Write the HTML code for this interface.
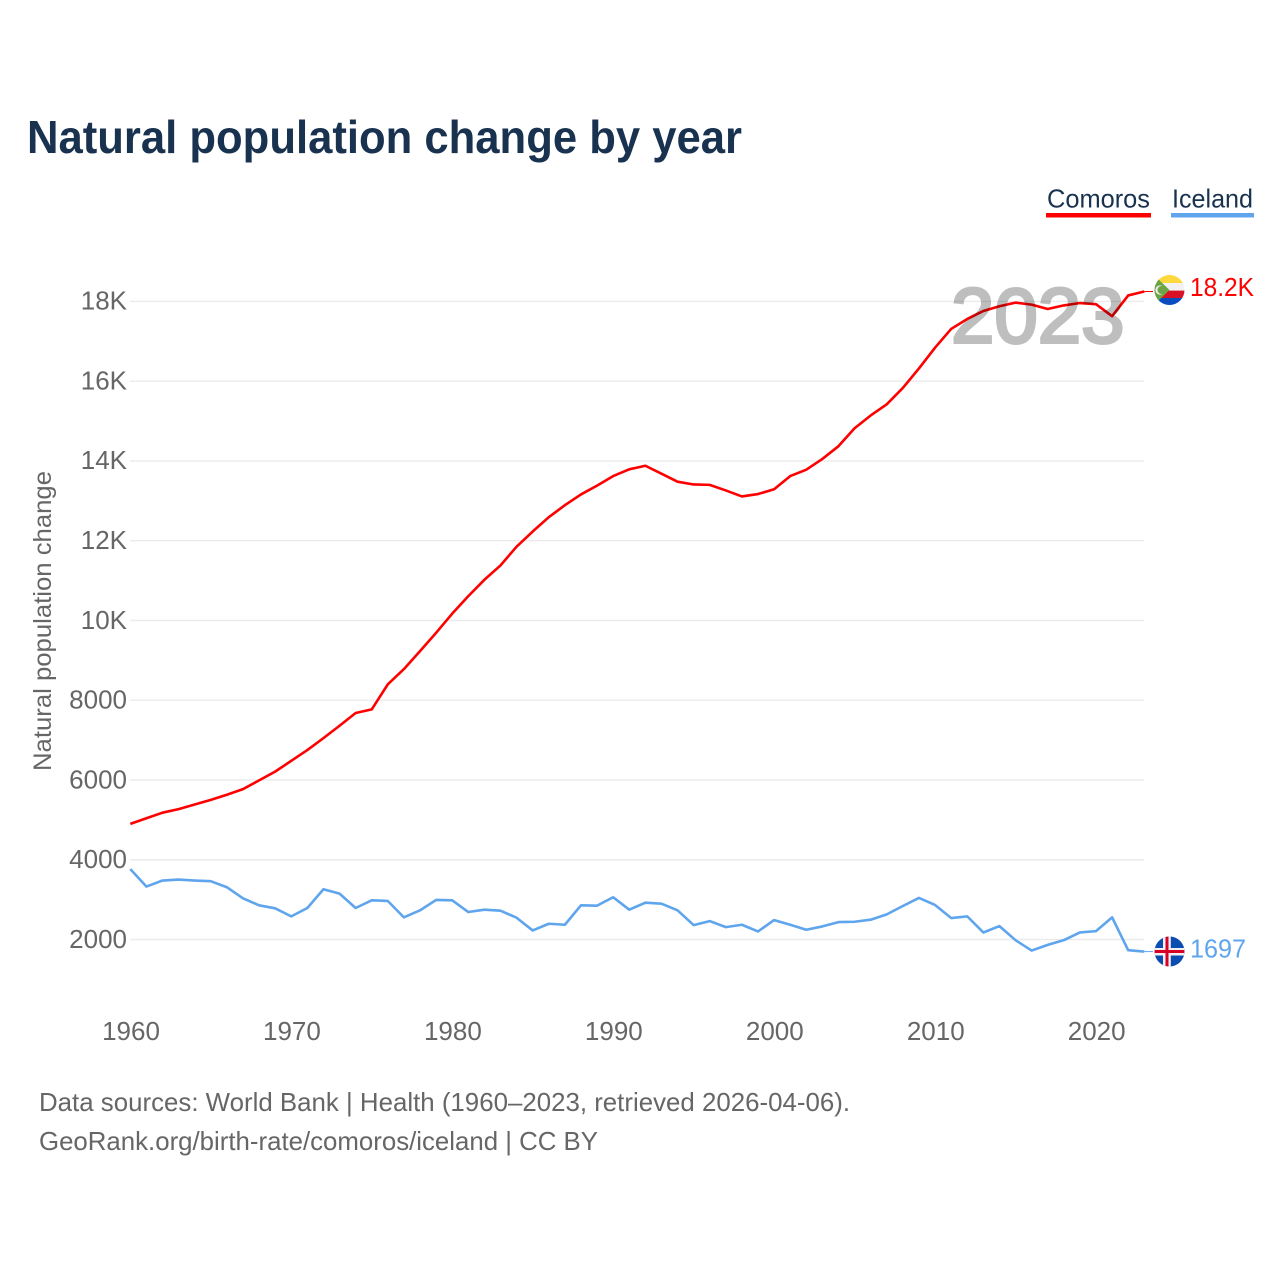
<!DOCTYPE html>
<html lang="en">
<head>
<meta charset="utf-8">
<title>Natural population change by year</title>
<style>
html,body{margin:0;padding:0;background:#fff;}
svg{display:block;}
text{font-family:"Liberation Sans",sans-serif;}
</style>
</head>
<body>
<svg id="chart" xmlns="http://www.w3.org/2000/svg" width="1280" height="1280" viewBox="0 0 1280 1280">
  <defs>
    <clipPath id="clip-comoros"><circle cx="1169.5" cy="290" r="15"/></clipPath>
    <clipPath id="clip-iceland"><circle cx="1169.5" cy="951.5" r="15"/></clipPath>
  </defs>
  <rect width="1280" height="1280" fill="#ffffff"/>
  <text x="27" y="153" font-size="46" font-weight="700" fill="#18324f" textLength="715" lengthAdjust="spacingAndGlyphs">Natural population change by year</text>

  <g>
    <text x="1047" y="207.5" font-size="26" fill="#18324f" textLength="103" lengthAdjust="spacingAndGlyphs">Comoros</text>
    <rect x="1046" y="213" width="105" height="4.5" fill="#ff0000"/>
  </g>
  <g>
    <text x="1172" y="207.5" font-size="26" fill="#18324f" textLength="81" lengthAdjust="spacingAndGlyphs">Iceland</text>
    <rect x="1171" y="213" width="83" height="4.5" fill="#5fa5ee"/>
  </g>

  <g id="grid"></g>
  <g id="ylabels"></g>
  <g id="xlabels"></g>
  <text transform="translate(51,771) rotate(-90)" font-size="25" fill="#666666" textLength="300" lengthAdjust="spacingAndGlyphs">Natural population change</text>

  <g id="series"></g>

  <text x="1124.5" y="342.5" text-anchor="end" font-size="78" fill="#000000" stroke="#000000" stroke-width="3" opacity="0.25">2023</text>

  <g clip-path="url(#clip-comoros)">
    <rect x="1154" y="275" width="31" height="8" fill="#ffd83d"/>
    <rect x="1154" y="283" width="31" height="7.6" fill="#f1f1f1"/>
    <rect x="1154" y="290.6" width="31" height="7.4" fill="#d81126"/>
    <rect x="1154" y="298" width="31" height="8" fill="#0b4cc0"/>
    <polygon points="1154,275 1169.5,290 1154,305" fill="#6da544"/>
    <circle cx="1160" cy="290" r="4.6" fill="#f0f0f0"/>
    <circle cx="1161.5" cy="290" r="4" fill="#6da544"/>
  </g>
  <g clip-path="url(#clip-iceland)">
    <rect x="1154" y="936" width="31" height="31" fill="#0b4cb0"/>
    <rect x="1154" y="948" width="31" height="7.5" fill="#f0f0f0"/>
    <rect x="1163" y="936" width="7.8" height="31" fill="#f0f0f0"/>
    <rect x="1154" y="950" width="31" height="3" fill="#d80027"/>
    <rect x="1165.5" y="936" width="3" height="31" fill="#d80027"/>
  </g>

  <text id="end-comoros" x="1190" y="296" font-size="26" fill="#ff0000" textLength="64" lengthAdjust="spacingAndGlyphs"></text>
  <text id="end-iceland" x="1190" y="957.5" font-size="26" fill="#5fa5ee" textLength="56" lengthAdjust="spacingAndGlyphs"></text>

  <text x="39" y="1111" font-size="26" fill="#666666" textLength="811" lengthAdjust="spacingAndGlyphs">Data sources: World Bank | Health (1960–2023, retrieved 2026-04-06).</text>
  <text x="39" y="1150" font-size="26" fill="#666666" textLength="559" lengthAdjust="spacingAndGlyphs">GeoRank.org/birth-rate/comoros/iceland | CC BY</text>
</svg>
<script>
const startYear = 1960;
const comorosValues = [4900,5040,5180,5270,5385,5500,5630,5770,5990,6210,6480,6750,7050,7360,7680,7770,8400,8780,9230,9690,10170,10610,11020,11380,11850,12230,12590,12890,13160,13380,13620,13790,13880,13680,13480,13410,13400,13260,13110,13170,13290,13620,13780,14050,14370,14820,15140,15420,15830,16320,16840,17310,17560,17760,17880,17970,17920,17810,17900,17960,17930,17630,18150,18249];
const icelandValues = [3765,3328,3479,3504,3479,3462,3311,3034,2857,2782,2580,2790,3260,3151,2790,2983,2966,2555,2731,2992,2983,2689,2748,2723,2546,2227,2395,2370,2857,2849,3059,2748,2924,2899,2731,2361,2462,2311,2370,2202,2487,2370,2244,2328,2437,2445,2496,2630,2840,3042,2866,2538,2580,2176,2336,1983,1723,1866,1983,2176,2210,2555,1732,1697];
const yTickValues = [2000,4000,6000,8000,10000,12000,14000,16000,18000];
const xTickValues = [1960,1970,1980,1990,2000,2010,2020];

const NS = 'http://www.w3.org/2000/svg';
function xScale(year){ return 130.3 + (year - 1960) * 16.095; }
function yScale(v){ return 939.5 - (v - 2000) * 0.03988; }
function fmtTick(v){ return v >= 10000 ? (v / 1000) + 'K' : String(v); }
function fmtEnd(v){ return v >= 10000 ? (Math.floor(v / 100) / 10).toFixed(1) + 'K' : String(v); }

const grid = document.getElementById('grid');
const yl = document.getElementById('ylabels');
yTickValues.forEach(function(v){
  const line = document.createElementNS(NS, 'line');
  
  
  line.setAttribute('x1', 130);
  line.setAttribute('x2', 1144);
  line.setAttribute('y1', yScale(v));
  line.setAttribute('y2', yScale(v));
  line.setAttribute('stroke', '#ebebeb');
  line.setAttribute('stroke-width', '1.4');
  grid.appendChild(line);
  const t = document.createElementNS(NS, 'text');
  
  
  t.setAttribute('x', 127);
  t.setAttribute('y', yScale(v) + 8.3);
  t.setAttribute('text-anchor', 'end');
  t.setAttribute('font-size', '26');
  t.setAttribute('fill', '#666666');
  t.textContent = fmtTick(v);
  yl.appendChild(t);
});

const xl = document.getElementById('xlabels');
xTickValues.forEach(function(y){
  const t = document.createElementNS(NS, 'text');
  
  
  t.setAttribute('x', xScale(y) + 0.7);
  t.setAttribute('y', 1040);
  t.setAttribute('text-anchor', 'middle');
  t.setAttribute('font-size', '26');
  t.setAttribute('fill', '#666666');
  t.textContent = String(y);
  xl.appendChild(t);
});

const seriesGroup = document.getElementById('series');
function drawLine(values, color, name){
  const pts = values.map(function(v, i){ return xScale(startYear + i).toFixed(2) + ',' + yScale(v).toFixed(2); }).join(' ');
  const pl = document.createElementNS(NS, 'polyline');
  
  
  pl.setAttribute('points', pts);
  pl.setAttribute('fill', 'none');
  pl.setAttribute('stroke', color);
  pl.setAttribute('stroke-width', '2.6');
  pl.setAttribute('stroke-linejoin', 'round');
  seriesGroup.appendChild(pl);
  const last = values[values.length - 1];
  const c = document.createElementNS(NS, 'line');
  
  
  c.setAttribute('x1', xScale(startYear + values.length - 1));
  c.setAttribute('x2', 1153);
  c.setAttribute('y1', yScale(last));
  c.setAttribute('y2', yScale(last));
  c.setAttribute('stroke', color);
  c.setAttribute('stroke-width', '1');
  seriesGroup.appendChild(c);
}
drawLine(comorosValues, '#ff0000', 'line-comoros');
drawLine(icelandValues, '#5fa5ee', 'line-iceland');

document.getElementById('end-comoros').textContent = fmtEnd(comorosValues[comorosValues.length - 1]);
document.getElementById('end-iceland').textContent = fmtEnd(icelandValues[icelandValues.length - 1]);
</script>
</body>
</html>
